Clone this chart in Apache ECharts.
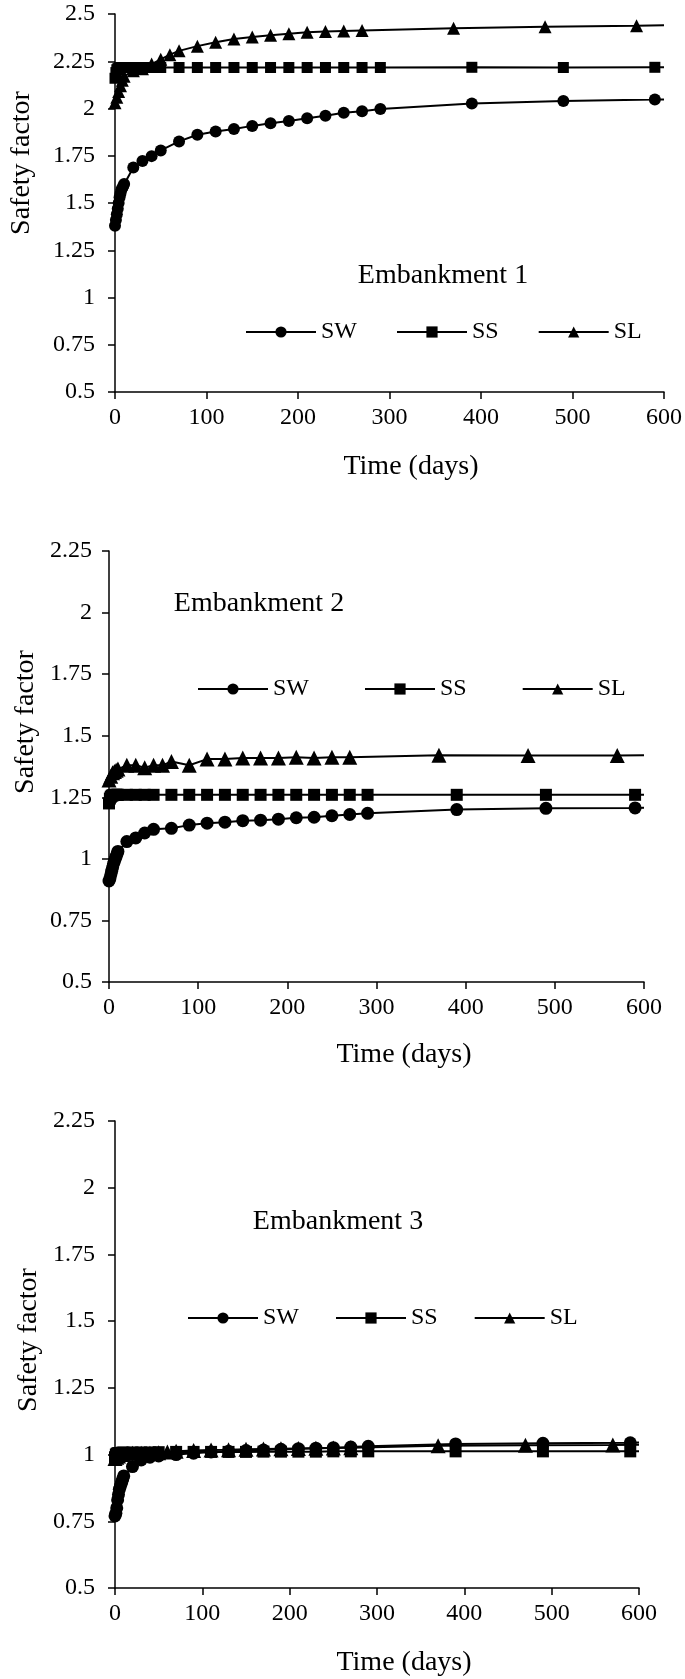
<!DOCTYPE html>
<html><head><meta charset="utf-8">
<script src="https://cdn.jsdelivr.net/npm/echarts@6/dist/echarts.min.js"></script>
<style>html,body{margin:0;padding:0;background:#fff}#c{width:685px;height:1679px}</style>
</head><body><div id="c"></div>
<script>
// ---------- data ----------
const legendNames = ['SW', 'SS', 'SL'];
const panelTitles = ['Embankment 1', 'Embankment 2', 'Embankment 3'];
const xName = 'Time (days)';
const yName = 'Safety factor';

const swDays = [0,1,2,3,4,5,6,7,8,9,10,20,30,40,50,70,90,110,130,150,170,190,210,230,250,270,290,390,490,590,600];
const ssDays = [0,1,2,3,4,5,6,7,8,9,10,20,30,40,50,70,90,110,130,150,170,190,210,230,250,270,290,390,490,590,600];
const slDays = [0,2,4,6,8,10,20,30,40,50,60,70,90,110,130,150,170,190,210,230,250,270,370,470,570,600];

// Embankment 1
const sw1 = [1.38,1.41,1.44,1.47,1.50,1.53,1.55,1.57,1.58,1.59,1.60,1.688,1.722,1.748,1.778,1.826,1.861,1.878,1.891,1.908,1.922,1.934,1.948,1.962,1.977,1.986,1.997,2.026,2.04,2.047,2.048];
const ss1 = [2.16,2.19,2.205,2.21,2.213,2.215,2.216,2.217,2.217,2.217,2.217,2.217,2.217,2.217,2.217,2.217,2.217,2.217,2.217,2.217,2.217,2.217,2.217,2.217,2.217,2.217,2.217,2.218,2.217,2.218,2.218];
const sl1 = [2.03,2.06,2.09,2.12,2.15,2.17,2.20,2.21,2.235,2.26,2.285,2.305,2.33,2.35,2.368,2.378,2.387,2.396,2.403,2.407,2.41,2.413,2.425,2.433,2.438,2.44];

// Embankment 2
const sw2 = [0.91,0.92,0.935,0.95,0.965,0.98,0.99,1.0,1.01,1.02,1.03,1.07,1.085,1.105,1.12,1.124,1.137,1.145,1.149,1.155,1.157,1.161,1.167,1.169,1.175,1.18,1.185,1.2,1.205,1.207,1.208];
const ss2 = [1.225,1.245,1.252,1.256,1.258,1.259,1.26,1.26,1.26,1.26,1.26,1.26,1.26,1.26,1.26,1.26,1.26,1.26,1.26,1.26,1.26,1.26,1.26,1.26,1.26,1.26,1.26,1.26,1.26,1.26,1.26];
const sl2 = [1.32,1.335,1.35,1.355,1.36,1.365,1.38,1.38,1.37,1.38,1.38,1.395,1.38,1.405,1.405,1.41,1.41,1.41,1.413,1.41,1.413,1.413,1.421,1.42,1.42,1.421];

// Embankment 3
const sw3 = [0.77,0.78,0.80,0.83,0.85,0.87,0.88,0.89,0.90,0.91,0.92,0.955,0.98,0.99,0.995,1.0,1.005,1.01,1.012,1.015,1.017,1.02,1.022,1.024,1.026,1.028,1.031,1.04,1.042,1.044,1.045];
const ss3 = [0.99,1.0,1.003,1.005,1.005,1.005,1.006,1.006,1.007,1.007,1.007,1.008,1.008,1.008,1.009,1.01,1.01,1.01,1.01,1.01,1.011,1.011,1.011,1.011,1.012,1.012,1.012,1.012,1.012,1.012,1.012];
const sl3 = [0.985,0.99,0.995,1.0,1.0,1.0,1.005,1.005,1.005,1.007,1.01,1.012,1.015,1.017,1.018,1.02,1.021,1.022,1.023,1.024,1.025,1.026,1.033,1.035,1.036,1.037];

const yMax = [2.5, 2.25, 2.25];
const yMin = 0.5, yStep = 0.25, xMin = 0, xMax = 600, xStep = 100;

// ---------- layout ----------
const FONT = "'Liberation Serif','Times New Roman',serif";
const grids = [
  {left:115, top:14, width:552, height:378},
  {left:109, top:551, width:535, height:431},
  {left:115, top:1121, width:524, height:467}
];
const labelMargins = [20, 17, 20];
const legendPos = [{left:245, top:320, gap:39}, {left:197, top:677, gap:55}, {left:187, top:1306, gap:36}];
const titlePos = [[443, 276], [259, 604], [338, 1222]];
const xNamePos = [[411, 467], [404, 1055], [404, 1663]];
const yNamePos = [[22, 163], [26, 722], [29, 1340]];
const symSizes = [[12, 11, 13], [13, 12, 15], [13, 12, 15]];

const allData = [[sw1, ss1, sl1], [sw2, ss2, sl2], [sw3, ss3, sl3]];
const allDays = [swDays, ssDays, slDays];
const symbols = ['circle', 'rect', 'triangle'];

function pts(days, vals) {
  return days.map((d, i) => d === 600 ? {value: [d, vals[i]], symbol: 'none'} : [d, vals[i]]);
}

const xAxis = [], yAxis = [], series = [], legend = [], graphic = [];
for (let k = 0; k < 3; k++) {
  xAxis.push({
    type: 'value', gridIndex: k, min: xMin, max: xMax, interval: xStep,
    axisLine: {lineStyle: {color: '#000', width: 1.5}},
    axisTick: {show: true, inside: false, length: 7, lineStyle: {color: '#000', width: 1.5}},
    splitLine: {show: false},
    axisLabel: {color: '#000', fontFamily: FONT, fontSize: 24, margin: 14}
  });
  yAxis.push({
    type: 'value', gridIndex: k, min: yMin, max: yMax[k], interval: yStep,
    axisLine: {show: true, lineStyle: {color: '#000', width: 1.5}},
    axisTick: {show: true, inside: false, length: 7, lineStyle: {color: '#000', width: 1.5}},
    splitLine: {show: false},
    axisLabel: {color: '#000', fontFamily: FONT, fontSize: 24, margin: labelMargins[k]}
  });
  for (let s = 0; s < 3; s++) {
    series.push({
      type: 'line', name: legendNames[s], xAxisIndex: k, yAxisIndex: k,
      data: pts(allDays[s], allData[k][s]),
      symbol: symbols[s], symbolSize: symSizes[k][s], showAllSymbol: true,
      lineStyle: {color: '#000', width: 2}, itemStyle: {color: '#000'},
      clip: false, animation: false
    });
  }
  legend.push({
    data: legendNames, left: legendPos[k].left, top: legendPos[k].top, orient: 'horizontal',
    itemWidth: 70, itemHeight: 14, itemGap: legendPos[k].gap, padding: 0,
    textStyle: {color: '#000', fontFamily: FONT, fontSize: 24}, selectedMode: false
  });
  graphic.push({type: 'text', x: titlePos[k][0], y: titlePos[k][1],
    style: {text: panelTitles[k], font: '28px ' + FONT, fill: '#000', align: 'center', verticalAlign: 'middle'}});
  graphic.push({type: 'text', x: xNamePos[k][0], y: xNamePos[k][1],
    style: {text: xName, font: '28px ' + FONT, fill: '#000', align: 'center', verticalAlign: 'middle'}});
  graphic.push({type: 'text', x: yNamePos[k][0], y: yNamePos[k][1], rotation: Math.PI / 2,
    style: {text: yName, font: '28px ' + FONT, fill: '#000', align: 'center', verticalAlign: 'middle'}});
}

const chart = echarts.init(document.getElementById('c'), null, {renderer: 'canvas'});
chart.setOption({
  backgroundColor: '#fff', animation: false,
  grid: grids, xAxis, yAxis, series, legend, graphic
});
</script></body></html>
